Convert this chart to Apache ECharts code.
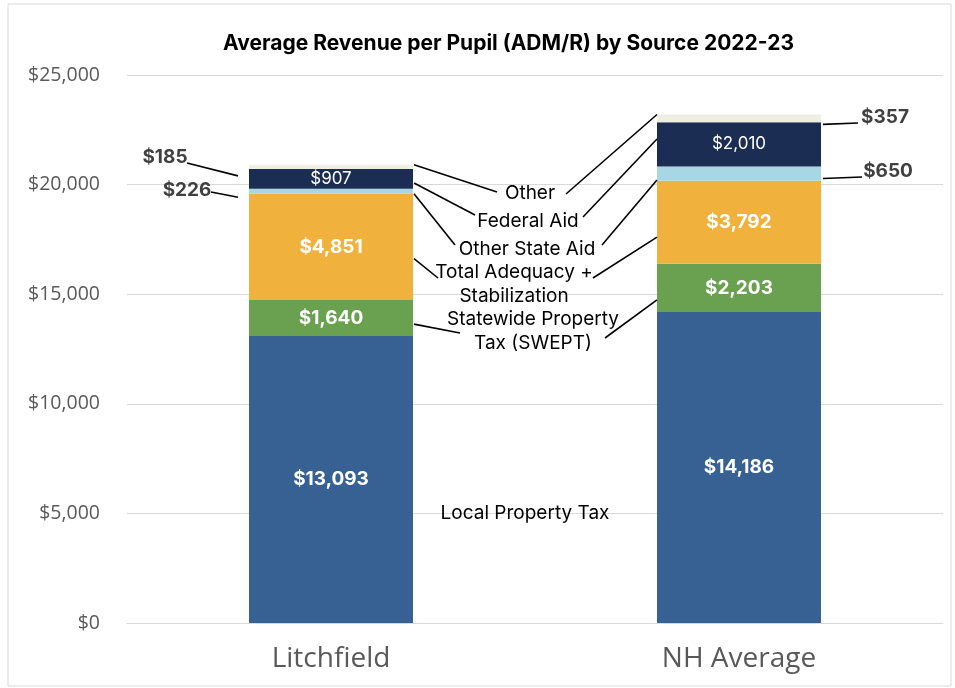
<!DOCTYPE html>
<html>
<head>
<meta charset="utf-8">
<script src="https://cdn.jsdelivr.net/npm/echarts@6/dist/echarts.min.js"></script>
<style>
  html, body { margin: 0; padding: 0; background: #fff; }
  #main { width: 955px; height: 688px; }
</style>
</head>
<body>
<div id="main"></div>
<script>
// data
const categories = ['Litchfield', 'NH Average']
const localTax = [13093, 14186]
const swept = [1640, 2203]
const adequacy = [4851, 3792]
const otherStateAid = [226, 650]
const federalAid = [907, 2010]
const other = [185, 357]
const yTicks = [0, 5000, 10000, 15000, 20000, 25000]

const money = (v) => '$' + v.toLocaleString('en-US')

const chart = echarts.init(document.getElementById('main'))

const boldLabel = {
  show: true,
  color: '#fff',
  fontFamily: 'Inter',
  fontWeight: 'bold',
  fontSize: 19,
  formatter: (p) => money(p.value)
}

const option = {
  animation: false,
  title: {
    text: 'Average Revenue per Pupil (ADM/R) by Source 2022-23',
    left: 218,
    top: 28,
    textStyle: { fontFamily: 'Inter', fontWeight: 'bold', fontSize: 21, color: '#000' }
  },
  grid: { left: 127, right: 12, top: 75, bottom: 65 },
  xAxis: {
    type: 'category',
    data: categories,
    axisTick: { show: false },
    axisLine: { lineStyle: { color: '#d9d9d9' } },
    axisLabel: { color: '#595959', fontSize: 28, fontFamily: 'Open Sans', margin: 22 }
  },
  yAxis: {
    type: 'value',
    min: yTicks[0],
    max: yTicks[yTicks.length - 1],
    interval: 5000,
    axisLabel: { color: '#595959', fontSize: 19.5, fontFamily: 'Open Sans', margin: 27, formatter: money },
    splitLine: { lineStyle: { color: '#d9d9d9' } }
  },
  series: [
    { name: 'Local Property Tax', type: 'bar', stack: 't', barWidth: 164, data: localTax,
      itemStyle: { color: '#376193' }, label: boldLabel },
    { name: 'Statewide Property Tax (SWEPT)', type: 'bar', stack: 't', data: swept,
      itemStyle: { color: '#6aa151' }, label: boldLabel },
    { name: 'Total Adequacy + Stabilization', type: 'bar', stack: 't', data: adequacy,
      itemStyle: { color: '#f0b23d' }, label: boldLabel },
    { name: 'Other State Aid', type: 'bar', stack: 't', data: otherStateAid,
      itemStyle: { color: '#a7d7e3' } },
    { name: 'Federal Aid', type: 'bar', stack: 't', data: federalAid,
      itemStyle: { color: '#1c2d54' },
      label: { show: true, color: '#fff', fontFamily: 'Inter', fontSize: 17, formatter: (p) => money(p.value) } },
    { name: 'Other', type: 'bar', stack: 't', data: other,
      itemStyle: { color: '#eeeee2' } }
  ]
}
chart.setOption(option)

// leader lines and annotation labels
const px = (ci, v) => chart.convertToPixel({ seriesIndex: 0 }, [ci, v])
const half = 82
const stacks = [localTax, swept, adequacy, otherStateAid, federalAid, other]
const base = (si, ci) => stacks.slice(0, si).reduce((s, a) => s + a[ci], 0)
const at = (si, ci, f) => base(si, ci) + stacks[si][ci] * f

const elements = []
const line = (a, b) => elements.push({
  type: 'line', silent: true, z: 10,
  shape: { x1: a[0], y1: a[1], x2: b[0], y2: b[1] },
  style: { stroke: '#000', lineWidth: 1.6 }
})
const text = (t, x, y, font, fill, align) => elements.push({
  type: 'text', silent: true, z: 10,
  style: { text: t, x: x, y: y, font: font, fill: fill, align: align || 'center', verticalAlign: 'middle', lineHeight: 24 }
})

const nameFont = '19px Inter'
// series names between the bars: [series, leftFrac, rightFrac, leftEnd, rightStart, label, labelPos]
const names = [
  [5, 1.0, 1.0, [497, 192], [566, 194], 'Other', [530, 193]],
  [4, 0.29, 0.62, [475, 215], [583, 217], 'Federal Aid', [528, 221]],
  [3, 0.0, 0.05, [455, 245], [602, 245], 'Other State Aid', [527, 249]],
  [2, 0.39, 0.32, [438, 278], [593, 278], 'Total Adequacy +\nStabilization', [514, 284]],
  [1, 0.33, 0.25, [460, 333], [605, 338], 'Statewide Property\nTax (SWEPT)', [533, 331]]
]
names.forEach(([si, fl, fr, le, rs, label, lp]) => {
  const l = px(0, at(si, 0, fl))
  const r = px(1, at(si, 1, fr))
  line([l[0] + half + 1, l[1]], le)
  line(rs, [r[0] - half, r[1]])
  text(label, lp[0], lp[1], nameFont, '#000')
})
text('Local Property Tax', 525, 513, nameFont, '#000')

// small segment values outside the bars
const valFont = 'bold 19px Inter'
const small = [
  [5, 0, -1, [165, 157], [187, 163], 9],
  [3, 0, -1, [187, 190], [211, 192], 6],
  [5, 1, 1, [885, 117], [858, 123], 6],
  [3, 1, 1, [888, 171], [862, 177], 5]
]
small.forEach(([si, ci, side, tp, ls, dy]) => {
  const m = px(ci, at(si, ci, 0.5))
  const ex = m[0] + side * (half + (side < 0 ? 11 : 2))
  line(ls, [ex, m[1] + dy])
  text(money(stacks[si][ci]), tp[0], tp[1], valFont, '#404040')
})

// outer frame
elements.push({
  type: 'rect', silent: true, z: -1,
  shape: { x: 8, y: 4, width: 943, height: 682 },
  style: { fill: 'none', stroke: '#d9d9d9', lineWidth: 1 }
})

chart.setOption({ graphic: { elements: elements } })
</script>
</body>
</html>
